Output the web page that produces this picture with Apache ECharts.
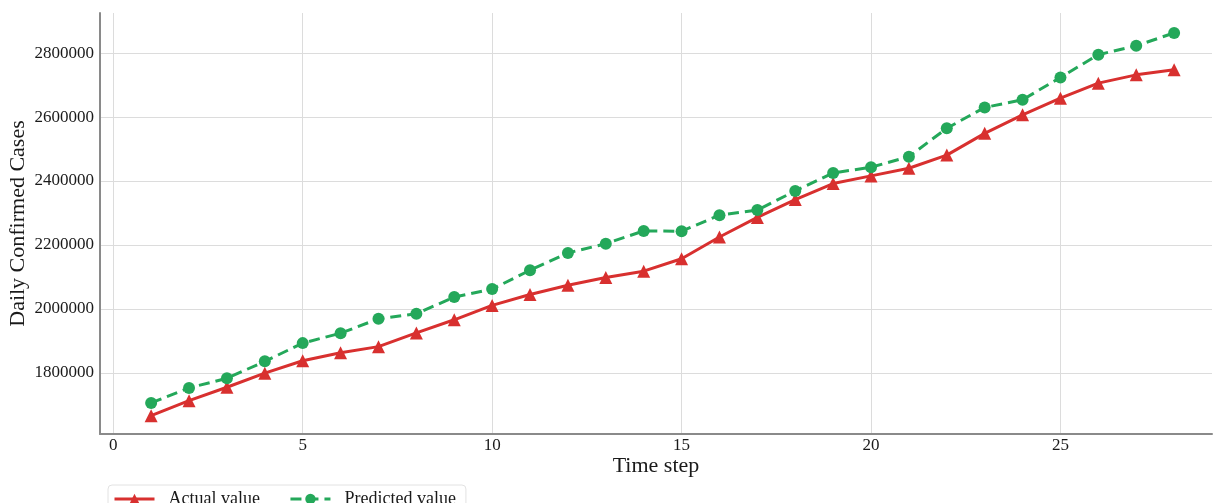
<!DOCTYPE html>
<html>
<head>
<meta charset="utf-8">
<title>Daily Confirmed Cases</title>
<script src="https://cdn.jsdelivr.net/npm/echarts@6.0.0/dist/echarts.min.js"></script>
<style>
  html, body { margin: 0; padding: 0; background: #fff; }
  #main { width: 1215px; height: 503px; }
</style>
</head>
<body>
<div id="main"></div>
<script>
// time steps on x axis
var steps = [1, 2, 3, 4, 5, 6, 7, 8, 9, 10, 11, 12, 13, 14, 15, 16, 17, 18, 19, 20, 21, 22, 23, 24, 25, 26, 27, 28];
// values
var actualValues = [1666000, 1713000, 1755000, 1799000, 1838000, 1863000, 1882000, 1925000, 1966000, 2011000,
    2045000, 2074000, 2098000, 2118000, 2157000, 2225000, 2286000, 2342000, 2392000, 2416000,
    2440000, 2481000, 2549000, 2607000, 2659000, 2706000, 2732000, 2748000];
var predictedValues = [1706000, 1753000, 1783000, 1836000, 1893000, 1924000, 1969000, 1985000, 2037000, 2062000,
    2121000, 2175000, 2204000, 2244000, 2243000, 2293000, 2309000, 2369000, 2425000, 2443000,
    2476000, 2565000, 2630000, 2654000, 2724000, 2795000, 2823000, 2863000];
var xTicks = [0, 5, 10, 15, 20, 25];
var yTicks = [1800000, 2000000, 2200000, 2400000, 2600000, 2800000];

var serif = "'Liberation Serif', 'Times New Roman', serif";

function pairs(xs, ys) {
    var out = [];
    for (var i = 0; i < xs.length; i++) {
        out.push([xs[i], ys[i]]);
    }
    return out;
}

function makechart() {
    var myChart = echarts.init(document.getElementById('main'));
    myChart.setOption({
        animation: false,
        grid: { left: 100, right: 3, top: 13, bottom: 69, containLabel: false, outerBoundsMode: 'none' },
        legend: {
            left: 108,
            top: 485,
            orient: 'horizontal',
            itemWidth: 40,
            itemHeight: 13,
            itemGap: 29,
            padding: [5, 10, 5, 5],
            borderColor: '#e2e2e2',
            borderWidth: 1,
            borderRadius: 4,
            lineStyle: { width: 3 },
            textStyle: { fontFamily: serif, fontSize: 18, color: '#1a1a1a', padding: [0, 0, 0, 9] },
            data: ['Actual value', 'Predicted value']
        },
        xAxis: {
            type: 'value',
            min: -0.35,
            max: 29,
            name: 'Time step',
            nameLocation: 'middle',
            nameGap: 21,
            nameMoveOverlap: false,
            nameTextStyle: { fontFamily: serif, fontSize: 22, color: '#1a1a1a' },
            axisLine: { show: true, onZero: false, lineStyle: { color: '#8a8a8a', width: 2 } },
            axisTick: { show: false, customValues: xTicks },
            axisLabel: { customValues: xTicks, margin: 3, fontFamily: serif, fontSize: 17, color: '#1a1a1a' },
            splitLine: { show: true, lineStyle: { color: '#dcdcdc', width: 1 } }
        },
        yAxis: {
            type: 'value',
            min: 1608800,
            max: 2925400,
            name: 'Daily Confirmed Cases',
            nameLocation: 'middle',
            nameGap: 71,
            nameMoveOverlap: false,
            nameTextStyle: { fontFamily: serif, fontSize: 22, color: '#1a1a1a' },
            axisLine: { show: true, onZero: false, lineStyle: { color: '#8a8a8a', width: 2 } },
            axisTick: { show: false, customValues: yTicks },
            axisLabel: {
                customValues: yTicks, margin: 6, fontFamily: serif, fontSize: 17, color: '#1a1a1a',
                formatter: function (v) { return String(v); }
            },
            splitLine: { show: true, lineStyle: { color: '#dcdcdc', width: 1 } }
        },
        series: [
            {
                name: 'Actual value',
                type: 'line',
                data: pairs(steps, actualValues),
                symbol: 'triangle',
                symbolSize: 13,
                itemStyle: { color: '#d8302f' },
                lineStyle: { color: '#d8302f', width: 3 }
            },
            {
                name: 'Predicted value',
                type: 'line',
                data: pairs(steps, predictedValues),
                symbol: 'circle',
                symbolSize: 12,
                itemStyle: { color: '#24a85a' },
                lineStyle: { color: '#24a85a', width: 3, type: [11, 6] }
            }
        ]
    });
}

makechart();
</script>
</body>
</html>
